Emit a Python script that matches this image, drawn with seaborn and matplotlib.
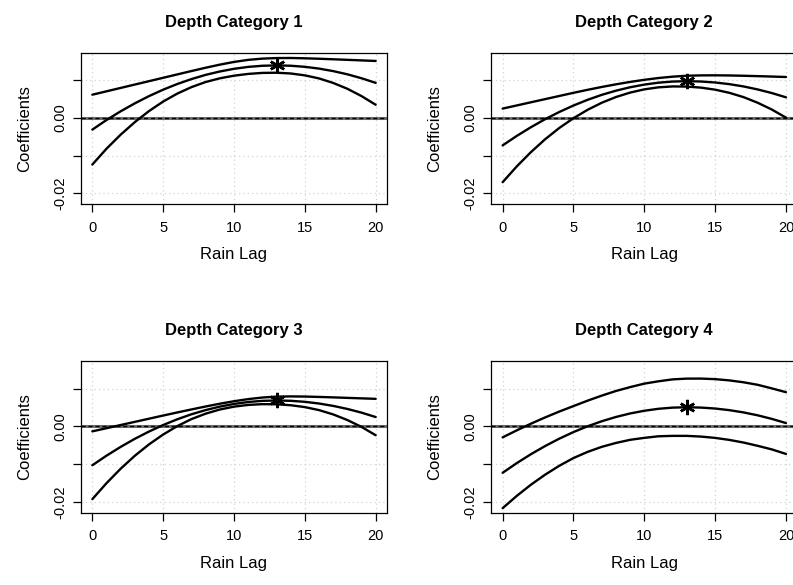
import numpy as np
import pandas as pd
import matplotlib
matplotlib.use("Agg")
import matplotlib.pyplot as plt
import seaborn as sns

lags = list(range(21))
star_lag = 13
titles = ["Depth Category 1", "Depth Category 2", "Depth Category 3", "Depth Category 4"]
x_ticks = [0, 5, 10, 15, 20]
y_ticks = [-0.02, -0.01, 0.00, 0.01]
y_tick_labels = ["-0.02", "", "0.00", ""]

est1 = [-0.00310, -0.00054, 0.00178, 0.00390, 0.00582, 0.00754, 0.00905, 0.01036, 0.01148, 0.01238, 0.01309,
        0.01360, 0.01390, 0.01400, 0.01391, 0.01362, 0.01315, 0.01248, 0.01163, 0.01058, 0.00935]
hi1 = [0.00620, 0.00710, 0.00800, 0.00890, 0.00980, 0.01070, 0.01160, 0.01250, 0.01338, 0.01420, 0.01492,
       0.01547, 0.01580, 0.01595, 0.01597, 0.01589, 0.01577, 0.01563, 0.01548, 0.01533, 0.01518]
lo1 = [-0.01240, -0.00818, -0.00444, -0.00110, 0.00184, 0.00438, 0.00650, 0.00822, 0.00958, 0.01056, 0.01126,
       0.01173, 0.01200, 0.01205, 0.01185, 0.01135, 0.01053, 0.00933, 0.00778, 0.00583, 0.00352]

est2 = [-0.00730, -0.00477, -0.00245, -0.00032, 0.00160, 0.00332, 0.00484, 0.00616, 0.00727, 0.00818, 0.00889,
        0.00940, 0.00970, 0.00980, 0.00971, 0.00945, 0.00901, 0.00840, 0.00760, 0.00664, 0.00550]
hi2 = [0.00250, 0.00334, 0.00418, 0.00502, 0.00586, 0.00670, 0.00750, 0.00826, 0.00896, 0.00960, 0.01016,
       0.01064, 0.01100, 0.01124, 0.01134, 0.01136, 0.01132, 0.01124, 0.01114, 0.01103, 0.01091]
lo2 = [-0.01710, -0.01288, -0.00908, -0.00566, -0.00266, -0.00006, 0.00218, 0.00406, 0.00558, 0.00676, 0.00762,
       0.00816, 0.00840, 0.00836, 0.00808, 0.00754, 0.00670, 0.00556, 0.00406, 0.00225, 0.00009]

est3 = [-0.01030, -0.00776, -0.00542, -0.00328, -0.00135, 0.00038, 0.00191, 0.00324, 0.00435, 0.00527, 0.00598,
        0.00649, 0.00680, 0.00690, 0.00681, 0.00654, 0.00609, 0.00546, 0.00465, 0.00367, 0.00250]
hi3 = [-0.00130, -0.00046, 0.00038, 0.00122, 0.00206, 0.00290, 0.00372, 0.00452, 0.00530, 0.00604, 0.00670,
       0.00726, 0.00768, 0.00792, 0.00798, 0.00794, 0.00784, 0.00772, 0.00759, 0.00746, 0.00733]
lo3 = [-0.01930, -0.01506, -0.01122, -0.00778, -0.00476, -0.00214, 0.00010, 0.00196, 0.00340, 0.00450, 0.00526,
       0.00572, 0.00592, 0.00588, 0.00564, 0.00514, 0.00434, 0.00320, 0.00171, -0.00012, -0.00233]

est4 = [-0.01230, -0.00973, -0.00736, -0.00520, -0.00324, -0.00149, 0.00005, 0.00139, 0.00252, 0.00345, 0.00417,
        0.00469, 0.00500, 0.00510, 0.00501, 0.00476, 0.00433, 0.00373, 0.00296, 0.00201, 0.00090]
hi4 = [-0.00290, -0.00103, 0.00074, 0.00240, 0.00396, 0.00541, 0.00685, 0.00819, 0.00942, 0.01045, 0.01137,
       0.01199, 0.01250, 0.01270, 0.01271, 0.01256, 0.01223, 0.01173, 0.01106, 0.01011, 0.00910]
lo4 = [-0.02170, -0.01843, -0.01546, -0.01280, -0.01044, -0.00839, -0.00675, -0.00541, -0.00438, -0.00355, -0.00303,
       -0.00261, -0.00250, -0.00250, -0.00269, -0.00304, -0.00357, -0.00427, -0.00514, -0.00609, -0.00730]

panels = [(est1, lo1, hi1), (est2, lo2, hi2), (est3, lo3, hi3), (est4, lo4, hi4)]

sns.set_style("white")
plt.rcParams["font.family"] = ["Liberation Sans", "DejaVu Sans"]
plt.rcParams["text.color"] = "black"
plt.rcParams["axes.labelcolor"] = "black"
plt.rcParams["xtick.color"] = "black"
plt.rcParams["ytick.color"] = "black"

W, H = 793, 585
fig = plt.figure(figsize=(W / 100, H / 100), dpi=100)

# axes boxes in pixels: left, top, width, height
boxes = [(81, 53, 306, 151), (491.3, 53, 306, 151), (81, 361.3, 306, 151.4), (491.3, 361.3, 306, 151.4)]

for i, (est, lo, hi) in enumerate(panels):
    l, t, w, h = boxes[i]
    ax = fig.add_axes([l / W, 1 - (t + h) / H, w / W, h / H])
    ax.set_xlim(-0.8, 20.8)
    ax.set_ylim(-0.0229, 0.0173)
    # grid
    for xv in x_ticks:
        ax.axvline(xv, color="#d3d3d3", lw=0.9, ls=(0, (1, 2.5)), zorder=0)
    for yv in y_ticks:
        ax.axhline(yv, color="#d3d3d3", lw=0.9, ls=(0, (1, 2.5)), zorder=0)
    # zero line
    ax.axhline(0, color="#6e6e6e", lw=2.2, zorder=1)
    ax.axhline(0, color="black", lw=1.0, ls=(0, (3, 2)), zorder=2)
    df = pd.DataFrame({"lag": lags, "est": est, "lo": lo, "hi": hi})
    for col in ["hi", "est", "lo"]:
        sns.lineplot(data=df, x="lag", y=col, ax=ax, color="black", lw=1.7, zorder=3)
    ax.plot([star_lag], [est[lags.index(star_lag)]], marker=(6, 2, 0), ms=11, mew=1.8,
            color="black", ls="none", zorder=4)
    ax.set_xticks(x_ticks)
    ax.set_xticklabels([str(v) for v in x_ticks], fontsize=10.5, color="black")
    ax.set_yticks(y_ticks)
    ax.set_yticklabels(y_tick_labels, fontsize=10.5, rotation=90, va="center", color="black")
    ax.tick_params(axis="both", direction="out", length=6, width=0.9, color="black",
                   bottom=True, left=True)
    ax.tick_params(axis="x", pad=6)
    ax.tick_params(axis="y", pad=4)
    for s in ax.spines.values():
        s.set_color("black")
        s.set_linewidth(0.9)
        s.set_visible(True)
    ax.set_xlabel("Rain Lag", fontsize=12, labelpad=9, color="black")
    ax.set_ylabel("Coefficients", fontsize=12, labelpad=15, color="black")
    ax.set_title(titles[i], fontsize=12, fontweight="bold", pad=19, color="black")

fig.savefig("out.png", dpi=100)
